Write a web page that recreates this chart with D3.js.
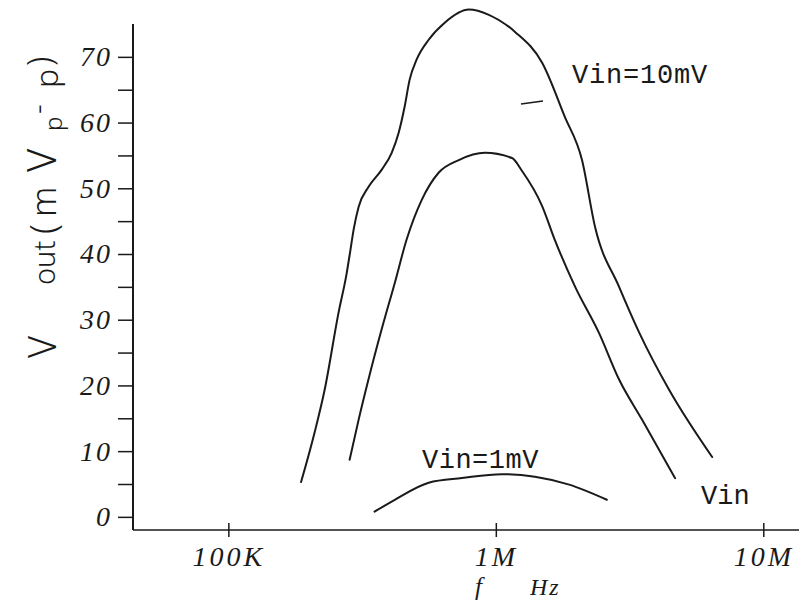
<!DOCTYPE html>
<html>
<head>
<meta charset="utf-8">
<script src="https://cdn.jsdelivr.net/npm/d3@7"></script>
<style>
  html, body { margin: 0; padding: 0; background: #fff; }
  svg { display: block; }
</style>
</head>
<body>
<svg id="chart" width="799" height="600"></svg>
<script>
// ---- data ----
const freq10 = [187e3, 210e3, 229e3, 258e3, 277e3, 286e3, 294e3, 307e3, 334e3, 374e3, 408e3, 433e3, 456e3, 476e3, 506e3, 561e3, 644e3, 793e3, 942e3, 1.18e6, 1.49e6, 1.81e6, 2.10e6, 2.35e6, 2.89e6, 3.44e6, 4.45e6, 6.44e6];
const vout10 = [5.3, 12.8, 19.3, 31.0, 37.1, 40.6, 43.7, 47.2, 50.2, 52.8, 55.4, 58.4, 62.4, 66.5, 69.6, 72.6, 75.2, 77.2, 76.4, 73.8, 69.1, 60.9, 54.3, 44.1, 35.0, 28.0, 19.3, 9.1];

const freqMid = [284e3, 307e3, 334e3, 374e3, 419e3, 464e3, 528e3, 612e3, 727e3, 910e3, 1.15e6, 1.25e6, 1.49e6, 1.66e6, 1.98e6, 2.43e6, 2.89e6, 3.52e6, 4.68e6];
const voutMid = [8.7, 14.8, 20.9, 28.5, 35.6, 42.2, 48.2, 52.4, 54.3, 55.4, 54.6, 52.7, 47.3, 42.2, 35.0, 28.0, 20.9, 14.8, 5.9];

const freq1 = [352e3, 419e3, 561e3, 747e3, 1.05e6, 1.40e6, 1.88e6, 2.60e6];
const vout1 = [0.8, 2.6, 5.2, 5.9, 6.5, 6.1, 4.9, 2.6];

const xTickValues = [1e5, 1e6, 1e7];
const xTickLabels = ["100K", "1M", "10M"];
const yMajorTicks = [0, 10, 20, 30, 40, 50, 60, 70];
const yMinorTicks = [5, 15, 25, 35, 45, 55, 65];

// ---- scales ----
const svg = d3.select("#chart");
const x = d3.scaleLog().domain([4.4e4, 1.36e7]).range([133, 799]);
const y = d3.scaleLinear().domain([-2, 75]).range([530, 24]);

const ink = "#1a1a1a";

// ---- axes ----
svg.append("line")
  .attr("x1", x(4.4e4)).attr("x2", x(4.4e4))
  .attr("y1", y(75)).attr("y2", y(-2))
  .attr("stroke", ink).attr("stroke-width", 2);
svg.append("line")
  .attr("x1", x(4.4e4)).attr("x2", x(1.36e7))
  .attr("y1", y(-2)).attr("y2", y(-2))
  .attr("stroke", ink).attr("stroke-width", 1.6);

const yAxis = d3.axisLeft(y)
  .tickValues(yMajorTicks)
  .tickSize(15)
  .tickPadding(6)
  .tickFormat(d3.format("d"));
const gy = svg.append("g")
  .attr("transform", `translate(${x(4.4e4)},0)`)
  .call(yAxis);
gy.select(".domain").remove();
gy.selectAll(".tick line").attr("stroke", ink).attr("stroke-width", 1.5);
gy.selectAll(".tick text")
  .attr("fill", ink)
  .style("font-family", "'Liberation Serif', serif")
  .style("font-style", "italic")
  .style("font-size", "28px")
  .style("letter-spacing", "2px");

const yMinor = d3.axisLeft(y).tickValues(yMinorTicks).tickSize(15).tickFormat("");
const gym = svg.append("g")
  .attr("transform", `translate(${x(4.4e4)},0)`)
  .call(yMinor);
gym.select(".domain").remove();
gym.selectAll(".tick line").attr("stroke", ink).attr("stroke-width", 1.5);

const xAxis = d3.axisBottom(x)
  .tickValues(xTickValues)
  .tickSize(14)
  .tickFormat((d, i) => xTickLabels[i]);
const gx = svg.append("g")
  .attr("transform", `translate(0,${y(-2) - 7})`)
  .call(xAxis);
gx.select(".domain").remove();
gx.selectAll(".tick line").attr("stroke", ink).attr("stroke-width", 1.5);
gx.selectAll(".tick text")
  .attr("fill", ink)
  .attr("y", 43).attr("dy", 0)
  .style("font-family", "'Liberation Serif', serif")
  .style("font-style", "italic")
  .style("font-size", "28px")
  .style("letter-spacing", "3px");

// ---- curves ----
const line = d3.line()
  .x(d => x(d[0]))
  .y(d => y(d[1]))
  .curve(d3.curveMonotoneX);

const series = [
  d3.zip(freq10, vout10),
  d3.zip(freqMid, voutMid),
  d3.zip(freq1, vout1)
];
svg.selectAll("path.curve")
  .data(series)
  .join("path")
  .attr("class", "curve")
  .attr("d", line)
  .attr("fill", "none")
  .attr("stroke", ink)
  .attr("stroke-width", 2)
  .attr("stroke-linecap", "round");

// ---- annotations ----
const mono = "'Liberation Mono', monospace";
svg.append("text").attr("x", 572).attr("y", 83)
  .attr("fill", ink).style("font-family", mono).style("font-size", "27px")
  .style("letter-spacing", "0.8px")
  .text("Vin=10mV");
svg.append("text").attr("x", 422).attr("y", 468)
  .attr("fill", ink).style("font-family", mono).style("font-size", "27px")
  .style("letter-spacing", "0.5px")
  .text("Vin=1mV");
svg.append("text").attr("x", 701).attr("y", 504)
  .attr("fill", ink).style("font-family", mono).style("font-size", "27px")
  .text("Vin");
svg.append("line").attr("x1", 521).attr("y1", 104).attr("x2", 543).attr("y2", 101)
  .attr("stroke", ink).attr("stroke-width", 1.5);

// x axis title
svg.append("text").attr("x", 475).attr("y", 595)
  .attr("fill", ink)
  .style("font-family", "'Liberation Serif', serif").style("font-style", "italic")
  .style("font-size", "25px")
  .text("f");
svg.append("text").attr("x", 530).attr("y", 595)
  .attr("fill", ink)
  .style("font-family", "'Liberation Serif', serif").style("font-style", "italic")
  .style("font-size", "24px").style("letter-spacing", "2px")
  .text("Hz");

// y axis title (rotated, pieces placed along the axis as hand-written)
const yt = svg.append("text")
  .attr("transform", "translate(56,0) rotate(-90)")
  .attr("fill", ink)
  .style("font-family", "'Noto Sans', sans-serif")
  .style("font-weight", "300");
yt.append("tspan").attr("x", -358).attr("y", 0).style("font-size", "38px").text("V");
yt.append("tspan").attr("x", -285).attr("y", -1).style("font-size", "29px").text("out");
yt.append("tspan").attr("x", -234).attr("y", 0).style("font-size", "36px").text("(");
yt.append("tspan").attr("x", -217).attr("y", 0).style("font-size", "34px").text("m");
yt.append("tspan").attr("x", -172).attr("y", 0).style("font-size", "40px").text("V");
yt.append("tspan").attr("x", -131).attr("y", 6).style("font-size", "24px").text("p");
yt.append("tspan").attr("x", -114).attr("y", -8).style("font-size", "30px").text("-");
yt.append("tspan").attr("x", -88).attr("y", 2).style("font-size", "32px").text("p");
yt.append("tspan").attr("x", -66).attr("y", -4).style("font-size", "34px").text(")");
</script>
</body>
</html>
